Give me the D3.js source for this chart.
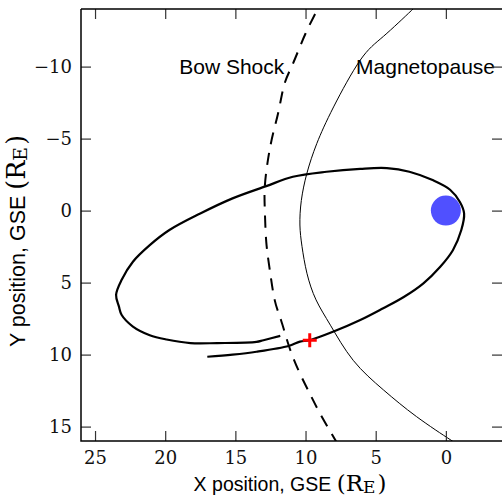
<!DOCTYPE html>
<html>
<head>
<meta charset="utf-8">
<script src="https://cdn.jsdelivr.net/npm/d3@7"></script>
<style>
  body { margin: 0; background: #fff; }
  svg { display: block; }
</style>
</head>
<body>
<svg id="chart" width="502" height="497"></svg>
<script>
// spacecraft orbit in GSE (X, Y), R_E
const orbitX = [17.0, 15.2, 13.5, 11.2, 10.4, 9.7, 8.0, 6.1, 4.5, 3.0, 1.6, 0.4, -0.5, -1.1, -1.3, -1.0, -0.3, 0.9, 2.6, 4.2, 6.1, 8.5, 10.9, 12.8, 15.2, 17.5, 19.7, 21.1, 22.3, 23.1, 23.5, 23.3, 23.1, 22.3, 21.1, 19.9, 18.2, 16.3, 13.5, 13.0, 11.8];
const orbitY = [10.15, 10.0, 9.8, 9.4, 9.1, 9.0, 8.4, 7.6, 6.8, 6.0, 5.05, 3.9, 2.75, 1.35, 0.2, -0.6, -1.45, -2.1, -2.7, -2.95, -2.9, -2.7, -2.35, -1.7, -0.85, 0.2, 1.35, 2.4, 3.55, 4.8, 5.85, 6.65, 7.25, 8.05, 8.65, 8.95, 9.2, 9.2, 9.12, 9.0, 8.7];

const shockX = [8.8, 9.2, 10.0, 10.9, 11.5, 11.9, 12.3, 12.65, 12.9, 12.9, 12.8, 12.55, 12.2, 11.75, 11.2, 10.5, 9.7, 8.85, 7.9, 7.7];
const shockY = [-15.0, -13.9, -12.3, -10.2, -8.8, -7.0, -5.4, -3.7, -1.7, 0.0, 2.15, 4.1, 6.2, 7.6, 9.35, 11.1, 12.7, 14.3, 15.9, 16.3];

const pauseX = [1.6, 2.45, 4.45, 6.1, 8.0, 9.2, 9.9, 10.3, 10.4, 10.25, 9.9, 9.25, 8.2, 6.6, 4.45, 2.1, -0.3, -0.8];
const pauseY = [-14.7, -13.9, -12.1, -10.45, -7.2, -4.65, -2.6, -0.7, 1.0, 2.5, 4.35, 6.2, 8.0, 10.4, 12.45, 14.3, 15.9, 16.2];

const xTicks = [25, 20, 15, 10, 5, 0];
const yTicks = [-10, -5, 0, 5, 10, 15];
const labels = [
    { text: 'Bow Shock', x: 19.0, y: -10 },
    { text: 'Magnetopause', x: 6.4, y: -10 }
];
const crossing = { x: 9.7, y: 9.0 };

const svg = d3.select('#chart');
const plotL = 81, plotR = 502, plotT = 9, plotB = 441;

const x = d3.scaleLinear().domain([26, -4]).range([plotL, plotR]);
const y = d3.scaleLinear().domain([-14, 16]).range([plotT, plotB]);

svg.append('defs').append('clipPath').attr('id', 'clip')
    .append('rect')
    .attr('x', plotL).attr('y', plotT)
    .attr('width', plotR - plotL).attr('height', plotB - plotT);

const plot = svg.append('g').attr('clip-path', 'url(#clip)');

const toPts = (xs, ys) => xs.map((v, i) => [v, ys[i]]);
const line = d3.line()
    .x(d => x(d[0]))
    .y(d => y(d[1]))
    .curve(d3.curveCatmullRom.alpha(0.5));
const smooth = d3.line()
    .x(d => x(d[0]))
    .y(d => y(d[1]))
    .curve(d3.curveNatural);

plot.append('path')
    .attr('d', smooth(toPts(pauseX, pauseY)))
    .attr('fill', 'none')
    .attr('stroke', '#000')
    .attr('stroke-width', 1);

plot.append('path')
    .attr('d', smooth(toPts(shockX, shockY)))
    .attr('fill', 'none')
    .attr('stroke', '#000')
    .attr('stroke-width', 2)
    .attr('stroke-dasharray', '12,9');

plot.append('circle')
    .attr('cx', x(0)).attr('cy', y(0)).attr('r', 15)
    .attr('fill', '#5050ff');

plot.append('path')
    .attr('d', line(toPts(orbitX, orbitY)))
    .attr('fill', 'none')
    .attr('stroke', '#000')
    .attr('stroke-width', 2.2)
    .attr('stroke-linejoin', 'round');

const cx = x(crossing.x), cy = y(crossing.y);
plot.append('path')
    .attr('d', `M${cx - 7},${cy}H${cx + 7}M${cx},${cy - 7}V${cy + 7}`)
    .attr('stroke', '#ff0000')
    .attr('stroke-width', 3);

svg.selectAll('.ann')
    .data(labels)
    .enter().append('text')
    .attr('class', 'ann')
    .attr('x', d => x(d.x))
    .attr('y', d => y(d.y))
    .attr('dy', '0.36em')
    .style('font-family', '"Liberation Sans", Arial, sans-serif')
    .style('font-size', '21px')
    .style('fill', '#000')
    .text(d => d.text);

// axes, ticks pointing inward on all four sides
const fmt = d => (d < 0 ? '\u2212' + Math.abs(d) : String(d));
const tickLen = 10;

function styleAxis(g) {
    g.select('.domain').remove();
    g.selectAll('.tick line').attr('stroke', '#333').attr('stroke-width', 1.2);
    g.selectAll('.tick text')
        .style('font-family', '"DejaVu Serif", serif')
        .style('font-size', '18px')
        .attr('fill', '#111');
}

svg.append('g')
    .attr('transform', `translate(0,${plotB})`)
    .call(d3.axisBottom(x).tickValues(xTicks).tickFormat(fmt).tickSizeInner(-tickLen).tickPadding(10))
    .call(styleAxis);

svg.append('g')
    .attr('transform', `translate(0,${plotT})`)
    .call(d3.axisTop(x).tickValues(xTicks).tickFormat('').tickSizeInner(-tickLen))
    .call(styleAxis);

svg.append('g')
    .attr('transform', `translate(${plotL},0)`)
    .call(d3.axisLeft(y).tickValues(yTicks).tickFormat(fmt).tickSizeInner(-tickLen).tickPadding(9))
    .call(styleAxis);

svg.append('g')
    .attr('transform', `translate(${plotR},0)`)
    .call(d3.axisRight(y).tickValues(yTicks).tickFormat('').tickSizeInner(-tickLen))
    .call(styleAxis);

svg.append('path')
    .attr('d', `M${plotL},${plotT}H${plotR + 1}M${plotL},${plotT}V${plotB}H${plotR + 1}`)
    .attr('fill', 'none')
    .attr('stroke', '#000')
    .attr('stroke-width', 1.5);

// axis titles: sans text plus a serif (R_E)
function axisTitle(g, name, size) {
    const k = size / 19.5;
    g.style('font-family', '"Liberation Sans", Arial, sans-serif')
        .style('font-size', size + 'px')
        .attr('text-anchor', 'middle')
        .attr('fill', '#000');
    g.append('tspan').text(name + ' position, GSE ');
    g.append('tspan').style('font-family', '"DejaVu Serif", serif').style('font-size', (23 * k) + 'px').text('(R');
    g.append('tspan').style('font-family', '"DejaVu Serif", serif').style('font-size', (17 * k) + 'px').attr('dy', 2 * k).text('E');
    g.append('tspan').style('font-family', '"DejaVu Serif", serif').style('font-size', (23 * k) + 'px').attr('dx', 2 * k).attr('dy', -2 * k).text(')');
}

svg.append('text')
    .attr('x', 290).attr('y', 491)
    .call(axisTitle, 'X', 19.5);

svg.append('text')
    .attr('transform', 'translate(25,241) rotate(-90)')
    .call(axisTitle, 'Y', 21.5);
</script>
</body>
</html>
